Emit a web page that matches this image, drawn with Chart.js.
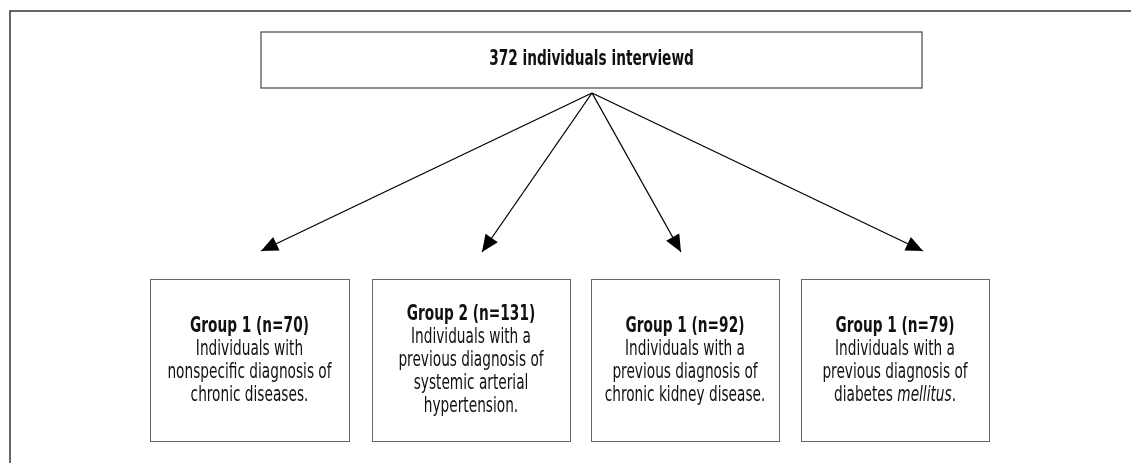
<!DOCTYPE html>
<html>
<head>
<meta charset="utf-8">
<script src="https://cdn.jsdelivr.net/npm/chart.js@4"></script>
<style>
  html, body { margin: 0; padding: 0; background: #fff; }
  #wrap { width: 1131px; height: 463px; }
</style>
</head>
<body>
<div id="wrap"><canvas id="chart" width="1131" height="463"></canvas></div>
<script>
// flowchart data
const totalCount = 372
const totalLabel = totalCount + " individuals interviewd"
const groupNames = ["Group 1", "Group 2", "Group 1", "Group 1"]
const groupCounts = [70, 131, 92, 79]
// each line is a list of [text, italic] pieces
const groupLines = [
    [[["Individuals with", 0]], [["nonspecific diagnosis of", 0]], [["chronic diseases.", 0]]],
    [[["Individuals with a", 0]], [["previous diagnosis of", 0]], [["systemic arterial", 0]], [["hypertension.", 0]]],
    [[["Individuals with a", 0]], [["previous diagnosis of", 0]], [["chronic kidney disease.", 0]]],
    [[["Individuals with a", 0]], [["previous diagnosis of", 0]], [["diabetes ", 0], ["mellitus", 1], [".", 0]]]
]

// layout (page units = pixels of the reference)
const layout = {
    frame: { x: 10, y: 11 },
    top: { x1: 261, y1: 32, x2: 922, y2: 88 },
    apex: { x: 592, y: 93 },
    tips: [[261, 251], [482, 252], [681, 252], [923, 251]],
    boxes: [[150, 349], [372, 570], [591, 779], [801, 989]],
    boxY: [279, 441],
    lineGap: 23
}

const FONT = '"Liberation Sans Narrow", "DejaVu Sans Condensed", "Liberation Sans", sans-serif'
const SIZE = 21
const SX = 0.725 // squeeze text horizontally to look condensed

function drawLine(ctx, pieces, cx, y, size, bold) {
    ctx.save()
    ctx.translate(cx, y)
    ctx.scale(SX, 1)
    let widths = pieces.map(p => {
        ctx.font = (p[1] ? "italic " : "") + (bold ? "bold " : "") + size + "px " + FONT
        return ctx.measureText(p[0]).width
    })
    let total = widths.reduce((a, b) => a + b, 0)
    let x = -total / 2
    ctx.textAlign = "left"
    ctx.textBaseline = "middle"
    ctx.fillStyle = "#111"
    pieces.forEach((p, i) => {
        ctx.font = (p[1] ? "italic " : "") + (bold ? "bold " : "") + size + "px " + FONT
        ctx.fillText(p[0], x, 0)
        x += widths[i]
    })
    ctx.restore()
}

const flowPlugin = {
    id: "flow",
    beforeDatasetsDraw(chart) {
        let ctx = chart.ctx
        let xs = chart.scales.x, ys = chart.scales.y
        let px = v => xs.getPixelForValue(v)
        let py = v => ys.getPixelForValue(v)

        // outer frame (top + left edge)
        ctx.save()
        ctx.strokeStyle = "#333"
        ctx.lineWidth = 1.5
        ctx.beginPath()
        ctx.moveTo(px(layout.frame.x), py(463))
        ctx.lineTo(px(layout.frame.x), py(layout.frame.y))
        ctx.lineTo(px(1131), py(layout.frame.y))
        ctx.stroke()

        // top box
        let t = layout.top
        ctx.strokeStyle = "#555"
        ctx.lineWidth = 1.3
        ctx.strokeRect(px(t.x1), py(t.y1), px(t.x2) - px(t.x1), py(t.y2) - py(t.y1))
        drawLine(ctx, [[totalLabel, 0]], px((t.x1 + t.x2) / 2), py((t.y1 + t.y2) / 2), SIZE, true)

        // group boxes
        ctx.strokeStyle = "#666"
        ctx.lineWidth = 1
        layout.boxes.forEach((b, i) => {
            let x1 = px(b[0]), x2 = px(b[1])
            let y1 = py(layout.boxY[0]), y2 = py(layout.boxY[1])
            ctx.strokeRect(x1 + 0.5, y1 + 0.5, x2 - x1, y2 - y1)
            let lines = [[[groupNames[i] + " (n=" + groupCounts[i] + ")", 0]]].concat(groupLines[i])
            let cy = (layout.boxY[0] + layout.boxY[1]) / 2 + 1
            let start = cy - (lines.length - 1) * layout.lineGap / 2
            lines.forEach((ln, j) => {
                drawLine(ctx, ln, (x1 + x2) / 2, py(start + j * layout.lineGap), SIZE, j == 0)
            })
        })
        ctx.restore()
    },
    afterDatasetsDraw(chart) {
        let ctx = chart.ctx
        ctx.save()
        ctx.fillStyle = "#000"
        chart.data.datasets.forEach((ds, i) => {
            let pts = chart.getDatasetMeta(i).data
            let a = pts[0], b = pts[1]
            let ang = Math.atan2(b.y - a.y, b.x - a.x)
            let len = 17, half = 7.5
            let bx = b.x - len * Math.cos(ang), by = b.y - len * Math.sin(ang)
            ctx.beginPath()
            ctx.moveTo(b.x, b.y)
            ctx.lineTo(bx + half * Math.sin(ang), by - half * Math.cos(ang))
            ctx.lineTo(bx - half * Math.sin(ang), by + half * Math.cos(ang))
            ctx.closePath()
            ctx.fill()
        })
        ctx.restore()
    }
}

let arrows = layout.tips.map(tp => ({
    data: [{ x: layout.apex.x, y: layout.apex.y }, { x: tp[0], y: tp[1] }],
    showLine: true,
    borderColor: "#000",
    borderWidth: 1.3,
    pointRadius: 0,
    pointHoverRadius: 0
}))

let chart = new Chart("chart", {
    type: "scatter",
    data: { datasets: arrows },
    options: {
        responsive: false,
        animation: false,
        layout: { padding: 0 },
        plugins: { legend: { display: false }, tooltip: { enabled: false } },
        scales: {
            x: { type: "linear", min: 0, max: 1131, display: false },
            y: { type: "linear", min: 0, max: 463, reverse: true, display: false }
        }
    },
    plugins: [flowPlugin]
})
</script>
</body>
</html>
